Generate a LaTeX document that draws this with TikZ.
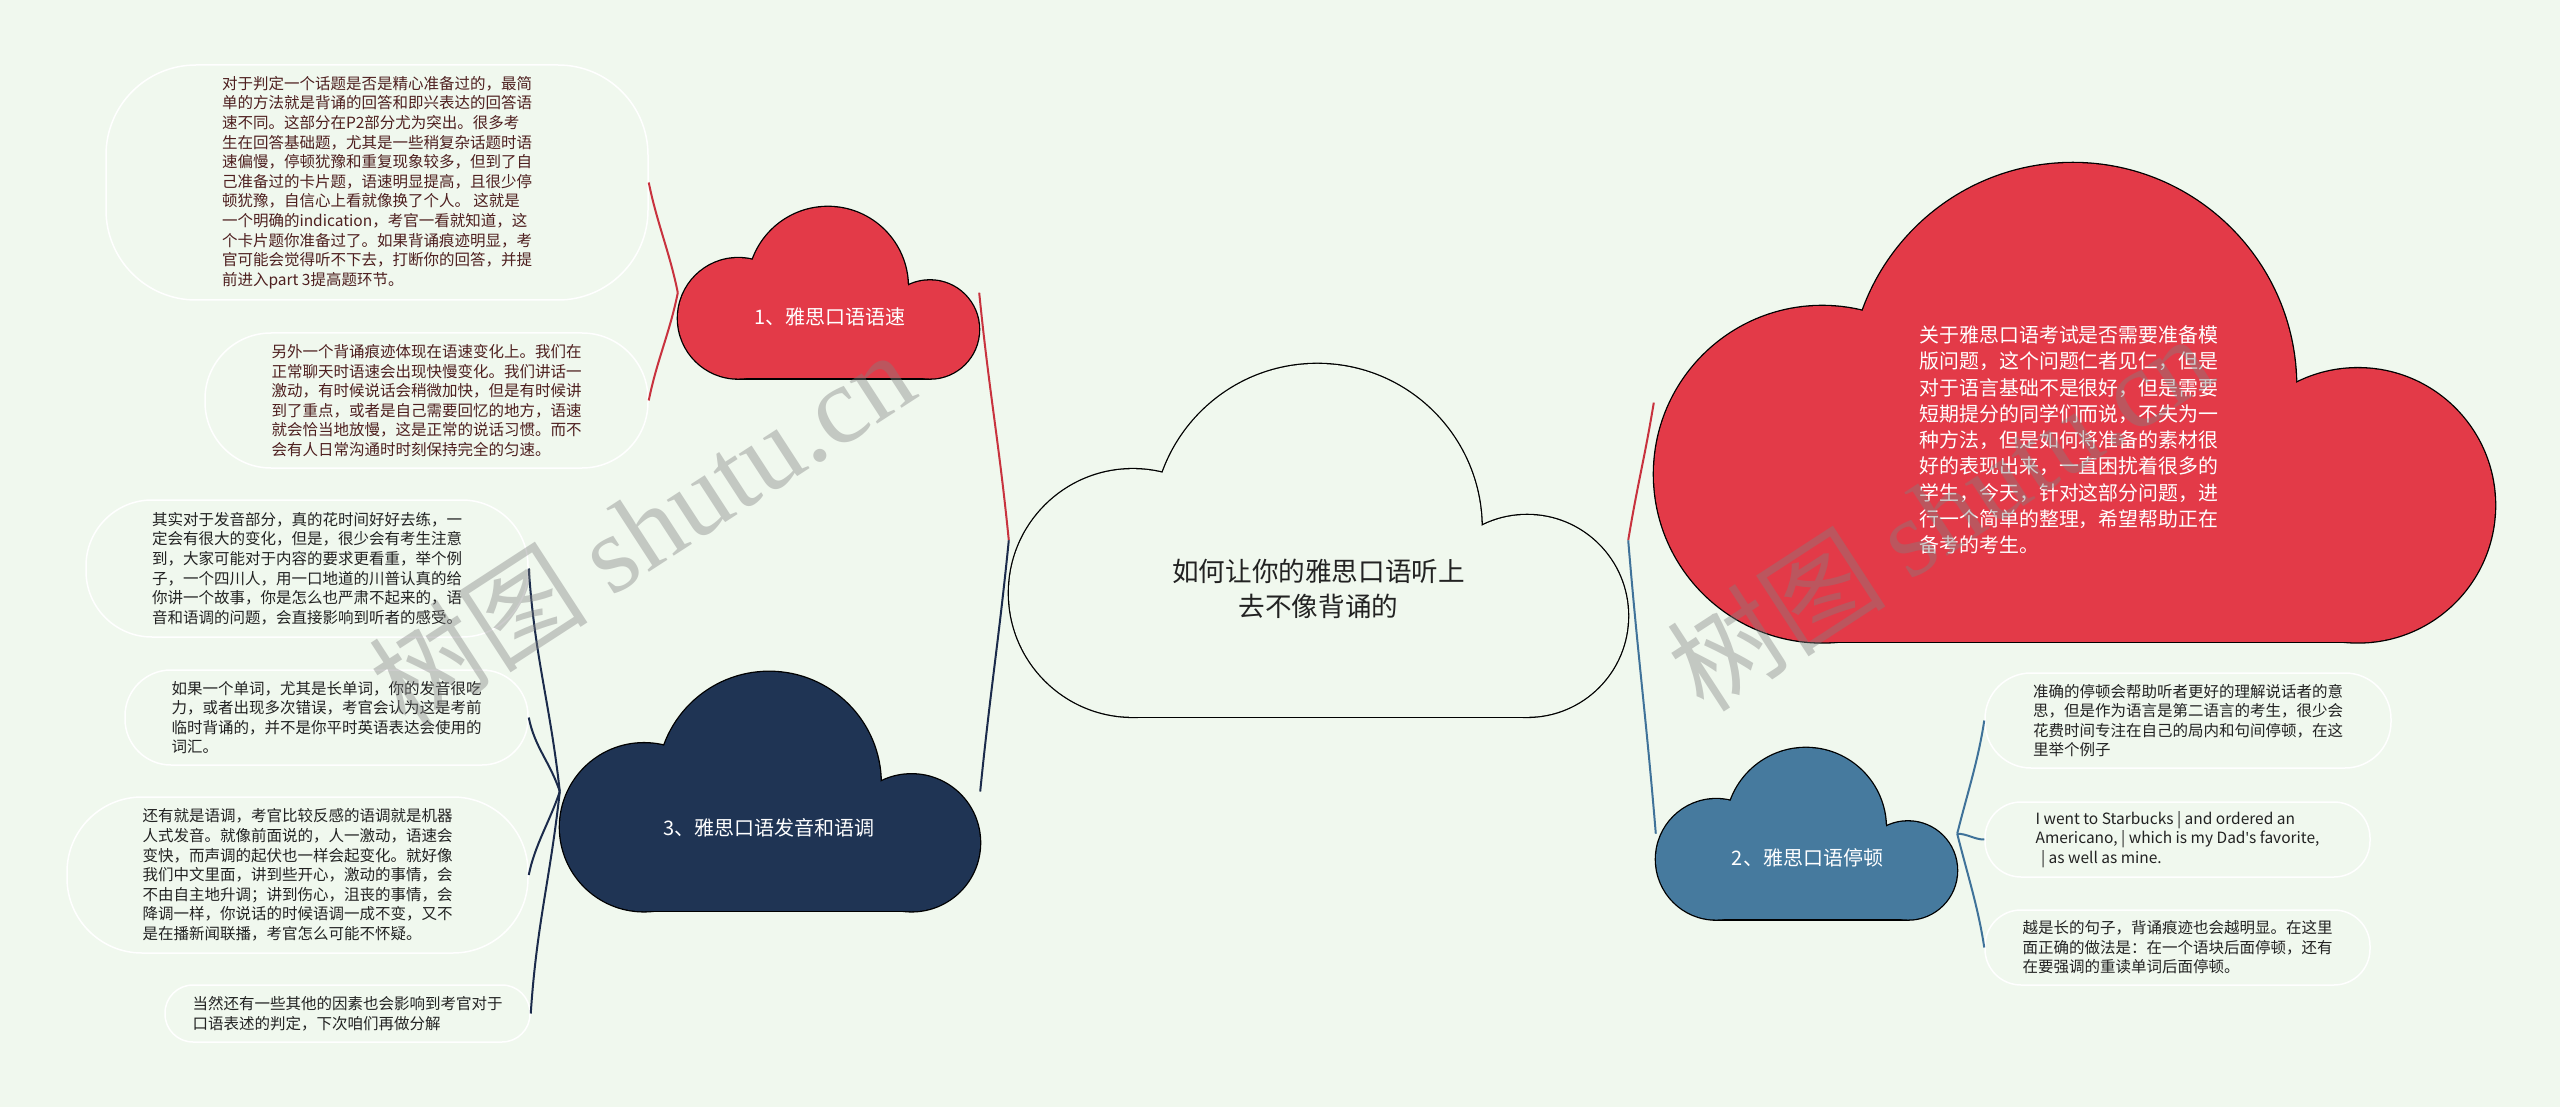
\documentclass[tikz,border=0pt]{standalone}
\usepackage{fontspec}
\setmainfont{Noto Sans CJK SC}
\newfontfamily\wmserif{Liberation Serif}
\newfontfamily\latinsans{Noto Sans}
\usepackage{tikz}
\usetikzlibrary{calc, positioning}
\definecolor{bgmint}{HTML}{F0F8EE}
\definecolor{cloudred}{HTML}{E33A48}
\definecolor{cloudnavy}{HTML}{1F3454}
\definecolor{cloudblue}{HTML}{467A9E}
\definecolor{linered}{HTML}{C8323E}
\definecolor{linenavy}{HTML}{1B2B4B}
\definecolor{lineblue}{HTML}{3F7299}
\definecolor{txtmaroon}{HTML}{4E1F1F}
\definecolor{txtdark}{HTML}{222222}

\newcommand{\leaffont}{\fontsize{15.5}{19.6}\selectfont}

% cloud = three circles on a box, black pass first, then the fill
\newcommand{\cloudbits}[4]{%
  \path[#4] ({#1+0.2*#3},{#2+0.37*#3}) circle[radius={0.2*#3}];
  \path[#4] ({#1+0.498*#3},{#2+0.2655*#3}) circle[radius={0.2655*#3}];
  \path[#4] ({#1+0.837*#3},{#2+0.407*#3}) circle[radius={0.163*#3}];
  \path[#4] ({#1+0.2*#3},{#2+0.293*#3}) rectangle ({#1+0.837*#3},{#2+0.5697*#3});
}
\newcommand{\cloudnode}[5]{% name, centre x, centre y, width, fill
  \pgfmathsetmacro{\cloudL}{#2-0.5*#4}
  \pgfmathsetmacro{\cloudT}{#3-0.28485*#4}
  \cloudbits{\cloudL}{\cloudT}{#4}{draw=black, fill=black, line width=2.6pt}
  \cloudbits{\cloudL}{\cloudT}{#4}{fill=#5}
  \node[cloudbox, minimum width=#4, minimum height={0.5697*#4}] (#1) at (#2,#3) {};
}

\begin{document}
\begin{tikzpicture}[x=1pt, y=-1pt,
    cloudbox/.style={inner sep=0pt},
    cloudlabel/.style={text=white, font=\fontsize{20}{24}\selectfont},
    leafbox/.style={draw=white, line width=1.5pt, inner sep=0pt, align=left, font=\leaffont},
    redline/.style={draw=linered, line width=2pt},
    navyline/.style={draw=linenavy, line width=2pt},
    blueline/.style={draw=lineblue, line width=2pt},
    wmtext/.style={text=gray, opacity=0.4, rotate=33, font=\fontsize{110}{110}\selectfont}]

  % page
  \fill[bgmint] (0,0) rectangle (2560,1107);

  % clouds
  \cloudnode{main}{1318.5}{540.3}{619}{bgmint}
  \cloudnode{c1}{828.5}{292.7}{301}{cloudred}
  \cloudnode{c3}{770}{791.5}{420}{cloudnavy}
  \cloudnode{c2}{1806.5}{833.7}{301}{cloudblue}
  \cloudnode{intro}{2074.5}{402.6}{841}{cloudred}

  \node[cloudlabel, text=txtdark, align=center, font=\fontsize{26.6}{35}\selectfont] (maintxt) at (1318.5,588.5) {如何让你的雅思口语听上\\去不像背诵的};
  \node[cloudlabel] (c1txt) at (830,317) {1、雅思口语语速};
  \node[cloudlabel] (c2txt) at (1807.5,858) {2、雅思口语停顿};
  \node[cloudlabel] (c3txt) at (769,828) {3、雅思口语发音和语调};
  \node[cloudlabel, align=left, font=\fontsize{19.9}{26.25}\selectfont] (introtxt) at (2069,440) {关于雅思口语考试是否需要准备模\\版问题，这个问题仁者见仁，但是\\对于语言基础不是很好，但是需要\\短期提分的同学们而说，不失为一\\种方法，但是如何将准备的素材很\\好的表现出来，一直困扰着很多的\\学生，今天，针对这部分问题，进\\行一个简单的整理，希望帮助正在\\备考的考生。};

  % branch 1
  \node[leafbox, text=txtmaroon, minimum width=542, minimum height=235, rounded corners=90] (l1a) at (377,182.5) {对于判定一个话题是否是精心准备过的，最简\\单的方法就是背诵的回答和即兴表达的回答语\\速不同。这部分在P2部分尤为突出。很多考\\生在回答基础题，尤其是一些稍复杂话题时语\\速偏慢，停顿犹豫和重复现象较多，但到了自\\己准备过的卡片题，语速明显提高，且很少停\\顿犹豫，自信心上看就像换了个人。 这就是\\一个明确的indication，考官一看就知道，这\\个卡片题你准备过了。如果背诵痕迹明显，考\\官可能会觉得听不下去，打断你的回答，并提\\前进入part 3提高题环节。};
  \node[leafbox, text=txtmaroon, minimum width=443, minimum height=135, rounded corners=66] (l1b) at (426.5,400.5) {另外一个背诵痕迹体现在语速变化上。我们在\\正常聊天时语速会出现快慢变化。我们讲话一\\激动，有时候说话会稍微加快，但是有时候讲\\到了重点，或者是自己需要回忆的地方，语速\\就会恰当地放慢，这是正常的说话习惯。而不\\会有人日常沟通时时刻保持完全的匀速。};

  % branch 3
  \node[leafbox, text=txtdark, minimum width=442, minimum height=137, rounded corners=66] (l3a) at (307,568.5) {其实对于发音部分，真的花时间好好去练，一\\定会有很大的变化，但是，很少会有考生注意\\到，大家可能对于内容的要求更看重，举个例\\子，一个四川人，用一口地道的川普认真的给\\你讲一个故事，你是怎么也严肃不起来的，语\\音和语调的问题，会直接影响到听者的感受。};
  \node[leafbox, text=txtdark, minimum width=403, minimum height=95, rounded corners=46] (l3b) at (326.5,717.5) {如果一个单词，尤其是长单词，你的发音很吃\\力，或者出现多次错误，考官会认为这是考前\\临时背诵的，并不是你平时英语表达会使用的\\词汇。};
  \node[leafbox, text=txtdark, minimum width=461, minimum height=156, rounded corners=75] (l3c) at (297.5,875) {还有就是语调，考官比较反感的语调就是机器\\人式发音。就像前面说的，人一激动，语速会\\变快，而声调的起伏也一样会起变化。就好像\\我们中文里面，讲到些开心，激动的事情，会\\不由自主地升调；讲到伤心，沮丧的事情，会\\降调一样，你说话的时候语调一成不变，又不\\是在播新闻联播，考官怎么可能不怀疑。};
  \node[leafbox, text=txtdark, minimum width=365, minimum height=57, rounded corners=28] (l3d) at (347.5,1013.5) {当然还有一些其他的因素也会影响到考官对于\\口语表述的判定，下次咱们再做分解};

  % branch 2
  \node[leafbox, text=txtdark, minimum width=406, minimum height=95, rounded corners=46] (l2a) at (2188,720.5) {准确的停顿会帮助听者更好的理解说话者的意\\思，但是作为语言是第二语言的考生，很少会\\花费时间专注在自己的局内和句间停顿，在这\\里举个例子};
  \node[leafbox, text=txtdark, minimum width=385, minimum height=75, rounded corners=36] (l2b) at (2177.5,839.5) {I went to Starbucks | and ordered an\\Americano, | which is my Dad{\latinsans '}s favorite,\\\hspace*{0.35em}| as well as mine.};
  \node[leafbox, text=txtdark, minimum width=385, minimum height=75, rounded corners=36] (l2c) at (2177.5,947.5) {越是长的句子，背诵痕迹也会越明显。在这里\\面正确的做法是：在一个语块后面停顿，还有\\在要强调的重读单词后面停顿。};

  % connectors
  \draw[redline] (main.west) .. controls +(-10,-100) and +(10,100) .. (c1.east);
  \draw[navyline] (main.west) .. controls +(-10,100) and +(10,-100) .. (c3.east);
  \draw[redline] (main.east) .. controls +(10,-60) and +(-10,60) .. (intro.west);
  \draw[blueline] (main.east) .. controls +(10,120) and +(-10,-120) .. (c2.west);

  \draw[redline] (c1.west) .. controls +(-8,-40) and +(8,40) .. (l1a.east);
  \draw[redline] (c1.west) .. controls +(-8,40) and +(8,-40) .. (l1b.east);

  \draw[navyline] (c3.west) .. controls +(-10,-90) and +(6,90) .. (l3a.east);
  \draw[navyline] (c3.west) .. controls +(-10,-30) and +(6,30) .. (l3b.east);
  \draw[navyline] (c3.west) .. controls +(-10,30) and +(6,-30) .. (l3c.east);
  \draw[navyline] (c3.west) .. controls +(-10,90) and +(6,-90) .. (l3d.east);

  \draw[blueline] (c2.east) .. controls +(10,-40) and +(-6,40) .. (l2a.west);
  \draw[blueline] (c2.east) .. controls +(10,0) and +(-10,0) .. (l2b.west);
  \draw[blueline] (c2.east) .. controls +(10,40) and +(-6,-40) .. (l2c.west);

  % watermark
  \node[wmtext] (wm1) at (641,528) {树图 {\wmserif shutu.cn}};
  \node[wmtext] (wm2) at (1939,512) {树图 {\wmserif shutu.cn}};
\end{tikzpicture}
\end{document}
